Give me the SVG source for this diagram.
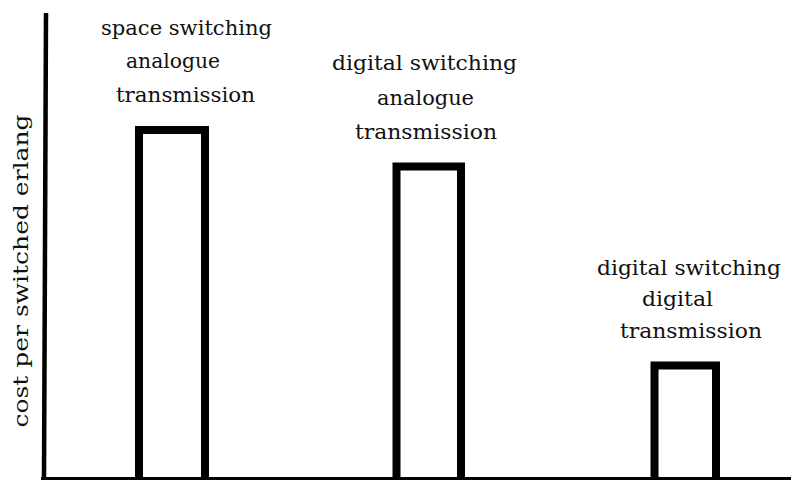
<svg xmlns="http://www.w3.org/2000/svg" width="791" height="480" viewBox="0 0 791 480">
  <style>
    .lbl { font-family: "DejaVu Serif", "Liberation Serif", serif; font-size: 21px; fill: #111; }
    .bar { fill: none; stroke: #000; stroke-width: 8; stroke-linejoin: miter; }
    .axis { stroke: #000; fill: none; }
  </style>
  <rect width="791" height="480" fill="#fff"/>
  <g id="axes">
    <line class="axis" x1="46" y1="13" x2="44" y2="479" stroke-width="4.5"/>
    <line class="axis" x1="41" y1="478.5" x2="791" y2="478.5" stroke-width="3"/>
    <text class="lbl" text-anchor="middle" transform="translate(28,271) rotate(-90)" textLength="313" lengthAdjust="spacingAndGlyphs">cost per switched erlang</text>
  </g>
  <g id="bar1">
    <path class="bar" d="M139,479 V130 H205 V479"/>
    <text class="lbl" x="101" y="35" textLength="171" lengthAdjust="spacingAndGlyphs">space switching</text>
    <text class="lbl" x="126" y="68" textLength="94" lengthAdjust="spacingAndGlyphs">analogue</text>
    <text class="lbl" x="116" y="102" textLength="139" lengthAdjust="spacingAndGlyphs">transmission</text>
  </g>
  <g id="bar2">
    <path class="bar" d="M396.5,479 V166.5 H461 V479"/>
    <text class="lbl" x="332" y="70" textLength="185" lengthAdjust="spacingAndGlyphs">digital switching</text>
    <text class="lbl" x="377" y="105" textLength="97" lengthAdjust="spacingAndGlyphs">analogue</text>
    <text class="lbl" x="355" y="139" textLength="142" lengthAdjust="spacingAndGlyphs">transmission</text>
  </g>
  <g id="bar3">
    <path class="bar" d="M654.5,479 V365.5 H716 V479"/>
    <text class="lbl" x="597" y="275" textLength="184" lengthAdjust="spacingAndGlyphs">digital switching</text>
    <text class="lbl" x="642" y="306" textLength="71" lengthAdjust="spacingAndGlyphs">digital</text>
    <text class="lbl" x="620" y="338" textLength="142" lengthAdjust="spacingAndGlyphs">transmission</text>
  </g>
</svg>
